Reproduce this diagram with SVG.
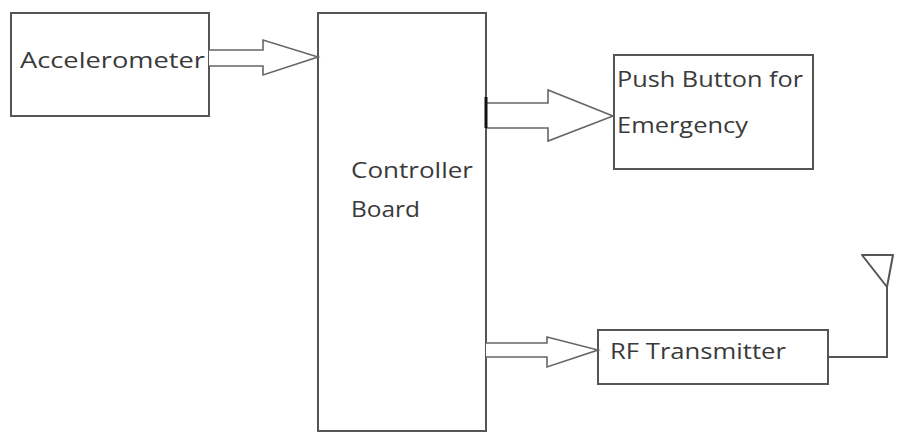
<svg xmlns="http://www.w3.org/2000/svg" width="898" height="433" viewBox="0 0 898 433">
<style>
.box{fill:#fff;stroke:#555;stroke-width:2}
.t{font-family:"Open Sans","Liberation Sans",sans-serif;font-size:22px;fill:#3a3a3a}
.ln{fill:none;stroke:#555;stroke-width:2}
.ar{fill:#fff;stroke:#666;stroke-width:1.6;stroke-linejoin:miter}
</style>
<rect width="898" height="433" fill="#fff"/>
<g id="controller">
<rect class="box" x="318" y="13" width="168" height="418"/>
<text class="t" x="351" y="178" textLength="122" lengthAdjust="spacingAndGlyphs">Controller</text>
<text class="t" x="351" y="217" textLength="69" lengthAdjust="spacingAndGlyphs">Board</text>
</g>
<g id="accelerometer">
<rect class="box" x="11" y="13" width="198" height="103"/>
<text class="t" x="20" y="68" textLength="185" lengthAdjust="spacingAndGlyphs">Accelerometer</text>
</g>
<g id="pushbutton">
<rect class="box" x="614" y="55" width="199" height="114"/>
<text class="t" x="617" y="87" textLength="186" lengthAdjust="spacingAndGlyphs">Push Button for</text>
<text class="t" x="617" y="133" textLength="131" lengthAdjust="spacingAndGlyphs">Emergency</text>
</g>
<g id="rftransmitter">
<rect class="box" x="598" y="330" width="230" height="54"/>
<text class="t" x="610" y="359" textLength="176" lengthAdjust="spacingAndGlyphs">RF Transmitter</text>
</g>
<g id="antenna">
<polygon class="ln" points="862,255 893,255 887,287" stroke-linejoin="round"/>
</g>
<g id="connectors">
<path class="ar" d="M209,50 H263 V40 L318,57 L263,75 V66 H209"/>
<path class="ar" d="M486,103 H548 V90 L613,116 L548,141 V128 H486"/>
<line x1="486" y1="97" x2="486" y2="128" stroke="#111" stroke-width="3"/>
<path class="ar" d="M486,343 H547 V337 L598,350 L547,367 V357 H486" stroke="#333"/>
<polyline class="ln" points="828,357 887,357 887,287"/>
</g>
</svg>
